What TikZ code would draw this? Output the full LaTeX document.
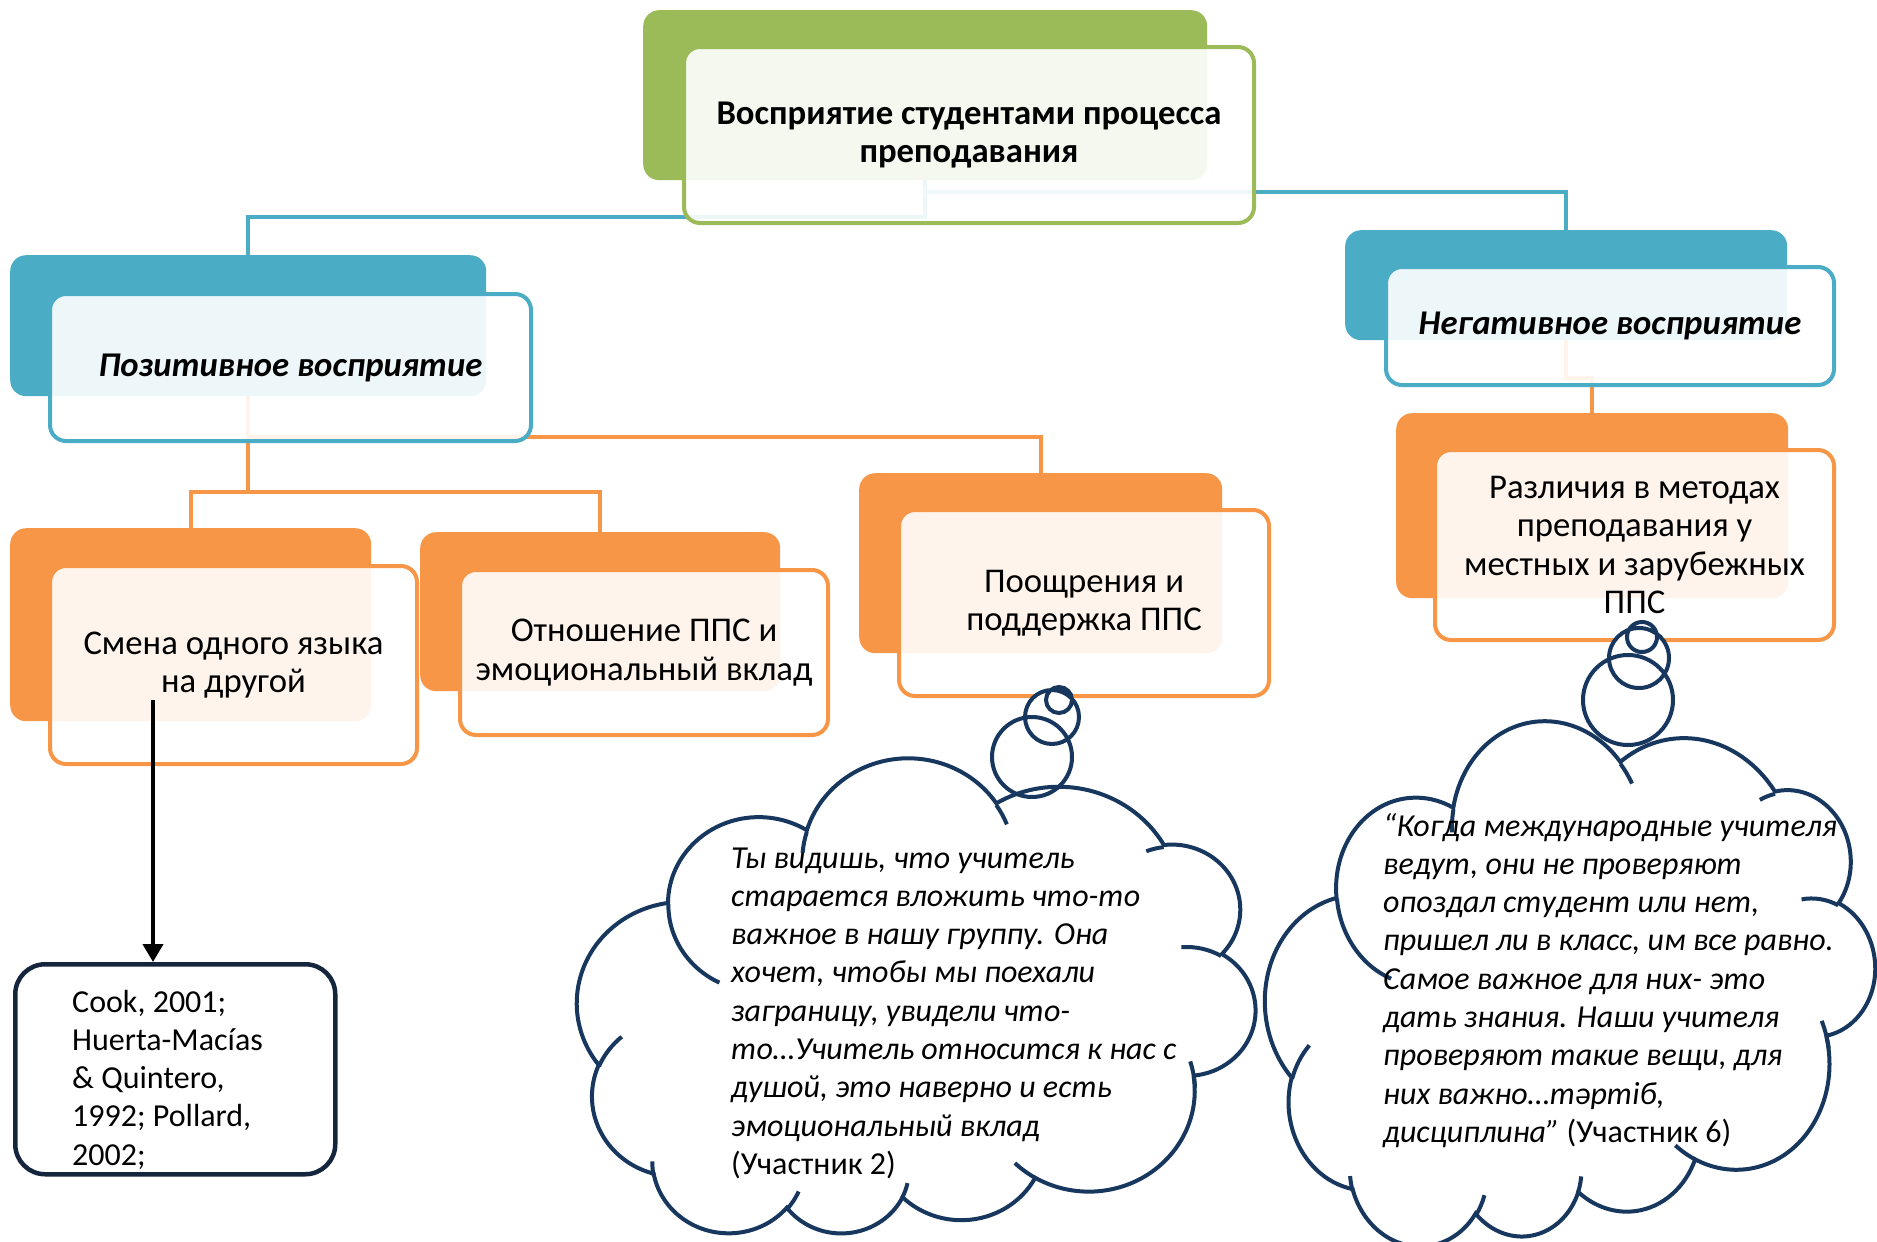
\documentclass[tikz,border=0pt]{standalone}
\usepackage{fontspec}
\setmainfont{Carlito}
\usetikzlibrary{arrows.meta}
\definecolor{cgreen}{HTML}{9BBB59}
\definecolor{cblue}{HTML}{4BACC6}
\definecolor{corange}{HTML}{F79646}
\definecolor{cnavy}{HTML}{17375E}
\definecolor{cdark}{HTML}{15253D}
\pgfdeclarelayer{bg}
\pgfsetlayers{bg,main}
\newcommand\oarc[4]{\pgfextra{%
  \pgfmathsetmacro\oaA{atan2((#1)*sin(#3),(#2)*cos(#3))}%
  \pgfmathsetmacro\oaB{atan2((#1)*sin((#3)+(#4)),(#2)*cos((#3)+(#4)))}%
  \pgfmathsetmacro\oaD{\oaB-\oaA-360*round((\oaB-\oaA-(#4))/360)}%
  \global\let\oaAg\oaA\global\let\oaDg\oaD}%
  arc[start angle=\oaAg,delta angle=\oaDg,x radius=#1,y radius=#2]}
\newcommand\cloudmain{(390.0,1437.0)
  \oarc{675.3}{919.0}{-190.4875}{123.7805}
  \oarc{533.3}{726.7}{-144.1024}{89.9452}
  \oarc{436.5}{594.5}{-145.808}{99.723}
  \oarc{485.7}{659.5}{-130.986}{117.2417}
  \oarc{533.3}{727.3}{-78.7089}{109.0269}
  \oarc{677.5}{922.0}{-46.2673}{130.269}
  \oarc{578.5}{786.7}{0.625}{114.0333}
  \oarc{675.2}{921.5}{22.4516}{115.1726}
  \oarc{772.0}{1054.3}{66.2426}{75.711}
  \oarc{436.0}{591.8}{-274.9421}{146.7356}
  \oarc{434.5}{594.5}{-246.8285}{152.5189} -- cycle}
\newcommand\cloudinner{(469.3,2617.7) \oarc{434.5}{594.5}{86.742}{26.4295}
  (692.8,3489.9) \oarc{436.0}{591.8}{73.6105}{11.4475}
  (1647.8,3909.0) \oarc{675.2}{921.5}{137.6242}{14.0811}
  (2882.7,3475.1) \oarc{675.2}{921.5}{6.4533}{15.9984}
  (3412.9,2295.4) \oarc{578.5}{786.7}{-70.2924}{70.9174}
  (4179.8,1535.4) \oarc{533.3}{727.3}{30.318}{27.7515}
  (3832.4,542.6) \oarc{485.7}{659.5}{-13.7443}{14.8589}
  (2907.8,395.2) \oarc{485.7}{659.5}{-149.1815}{18.1954}
  (2214.1,472.0) \oarc{436.5}{594.5}{-163.4943}{17.6864}
  (1400.0,519.2) \oarc{675.3}{919.0}{-66.707}{12.3194}
  (412.7,1578.9) \oarc{675.3}{919.0}{156.964}{20.1113}}
\newcommand\boxsize{\fontsize{34.7}{38.3}\selectfont}
\newcommand\txtsize{\fontsize{32}{38.3}\selectfont}
\tikzset{
  conn/.style={line width=4pt},
  backbox/.style={rounded corners=16pt, inner sep=0pt, anchor=north west},
  frontbox/.style={rounded corners=16pt, line width=4pt, fill=white, fill opacity=0.9,
    text opacity=1, inner sep=0pt, anchor=north west, align=center, font=\boxsize},
  cloudline/.style={draw=cnavy, line width=4pt},
  plaintext/.style={anchor=base west, inner sep=0pt, font=\txtsize},
  cloudA/.style={shift={(916,997.5)},rotate=180,xscale=678/4320,yscale=475/4320,shift={(-2160,-2160)}},
  cloudB/.style={shift={(1569,977)},rotate=185.7,xscale=611/4320,yscale=511/4320,shift={(-2160,-2160)}}
}
\begin{document}
\begin{tikzpicture}[x=1pt,y=-1pt]
\useasboundingbox (0,0) rectangle (1877,1242);
% top
\node[backbox, fill=cgreen, minimum width=564pt, minimum height=170pt] (tb) at (643,10) {};
\node[frontbox, draw=cgreen, minimum width=570pt, minimum height=176pt, font=\boxsize\bfseries] (tf) at (682,45) {Восприятие студентами процесса\\преподавания};
% positive
\node[backbox, fill=cblue, minimum width=476pt, minimum height=141pt] (pb) at (10,255) {};
\node[frontbox, draw=cblue, minimum width=481pt, minimum height=147pt, font=\boxsize\bfseries\itshape] (pf) at (48,292) {Позитивное восприятие};
% negative
\node[backbox, fill=cblue, minimum width=442pt, minimum height=110pt] (nb) at (1345,230) {};
\node[frontbox, draw=cblue, minimum width=448pt, minimum height=118pt, font=\boxsize\bfseries\itshape] (nf) at (1384,265) {Негативное восприятие};
% children
\node[backbox, fill=corange, minimum width=361pt, minimum height=193pt] (sb) at (10,528) {};
\node[frontbox, draw=corange, minimum width=367pt, minimum height=198pt] (sf) at (48,564) {Смена одного языка\\на другой};
\node[backbox, fill=corange, minimum width=360pt, minimum height=159pt] (ob) at (420,532) {};
\node[frontbox, draw=corange, minimum width=368pt, minimum height=165pt] (obf) at (458,568) {Отношение ППС и\\эмоциональный вклад};
\node[backbox, fill=corange, minimum width=363pt, minimum height=180pt] (cb) at (859,473) {};
\node[frontbox, draw=corange, minimum width=370pt, minimum height=186pt] (cf) at (897,508) {Поощрения и\\поддержка ППС};
\node[backbox, fill=corange, minimum width=392pt, minimum height=185pt] (db) at (1396,413) {};
\node[frontbox, draw=corange, minimum width=399pt, minimum height=190pt] (df) at (1433,448) {Различия в методах\\преподавания у\\местных и зарубежных\\ППС};
% connectors
\begin{pgfonlayer}{bg}
\draw[conn, cblue] (tb.south) -- (tb.south |- 0,192) -| (nb.north);
\draw[conn, cblue] (tb.south |- 0,192) -- (tb.south |- 0,217) -| (pb.north);
\draw[conn, corange] (pb.south) -- (pb.south |- 0,437) -| (cb.north);
\draw[conn, corange] (pb.south |- 0,437) -- (pb.south |- 0,492) -| (sb.north);
\draw[conn, corange] (pb.south |- 0,492) -| (ob.north);
\draw[conn, corange] (nb.south) -- (nb.south |- 0,378) -| (db.north);
\end{pgfonlayer}
% references
\node[draw=cdark, line width=4.5pt, rounded corners=30pt, minimum width=320pt, minimum height=210pt, anchor=north west, inner sep=0pt] (refs) at (13,962) {};
\node[plaintext] (refstext) at (72,1012) {\parbox[t]{300pt}{\raggedright Cook, 2001;\\Huerta-Macías\\\& Quintero,\\1992; Pollard,\\2002;}};
\coordinate (arrowstart) at (153,700);
\draw[line width=4pt, -{Triangle[length=18pt,width=20pt]}] (arrowstart) -- (arrowstart |- refs.north);
% cloud fills
\begin{scope}[cloudA] \fill[white] \cloudmain; \end{scope}
\begin{scope}[cloudB] \fill[white] \cloudmain; \end{scope}
\fill[white] (1032,757) circle[radius=40] (1052,717) circle[radius=27] (1059,700) circle[radius=13];
\fill[white] (1628,700) circle[radius=45] (1639,658) circle[radius=30] (1642,637) circle[radius=15];
% cloud strokes
\begin{scope}[cloudA] \draw[cloudline] \cloudmain; \draw[cloudline] \cloudinner; \end{scope}
\begin{scope}[cloudB] \draw[cloudline] \cloudmain; \draw[cloudline] \cloudinner; \end{scope}
\draw[cloudline] (1032,757) circle[radius=40] (1052,717) circle[radius=27] (1059,700) circle[radius=13];
\draw[cloudline] (1628,700) circle[radius=45] (1639,658) circle[radius=30] (1642,637) circle[radius=15];
% cloud texts
\node[plaintext] (c1text) at (731,868) {\parbox[t]{520pt}{\raggedright\itshape Ты видишь, что учитель\\старается вложить что-то\\важное в нашу группу. Она\\хочет, чтобы мы поехали\\заграницу, увидели что-\\то…Учитель относится к нас с\\душой, это наверно и есть\\эмоциональный вклад\\{\upshape (Участник 2)}}};
\node[plaintext] (c2text) at (1383,836) {\parbox[t]{520pt}{\raggedright\itshape “Когда международные учителя\\ведут, они не проверяют\\опоздал студент или нет,\\пришел ли в класс, им все равно.\\Самое важное для них- это\\дать знания. Наши учителя\\проверяют такие вещи, для\\них важно…тәртіб,\\дисциплина” {\upshape (Участник 6)}}};
\end{tikzpicture}
\end{document}
